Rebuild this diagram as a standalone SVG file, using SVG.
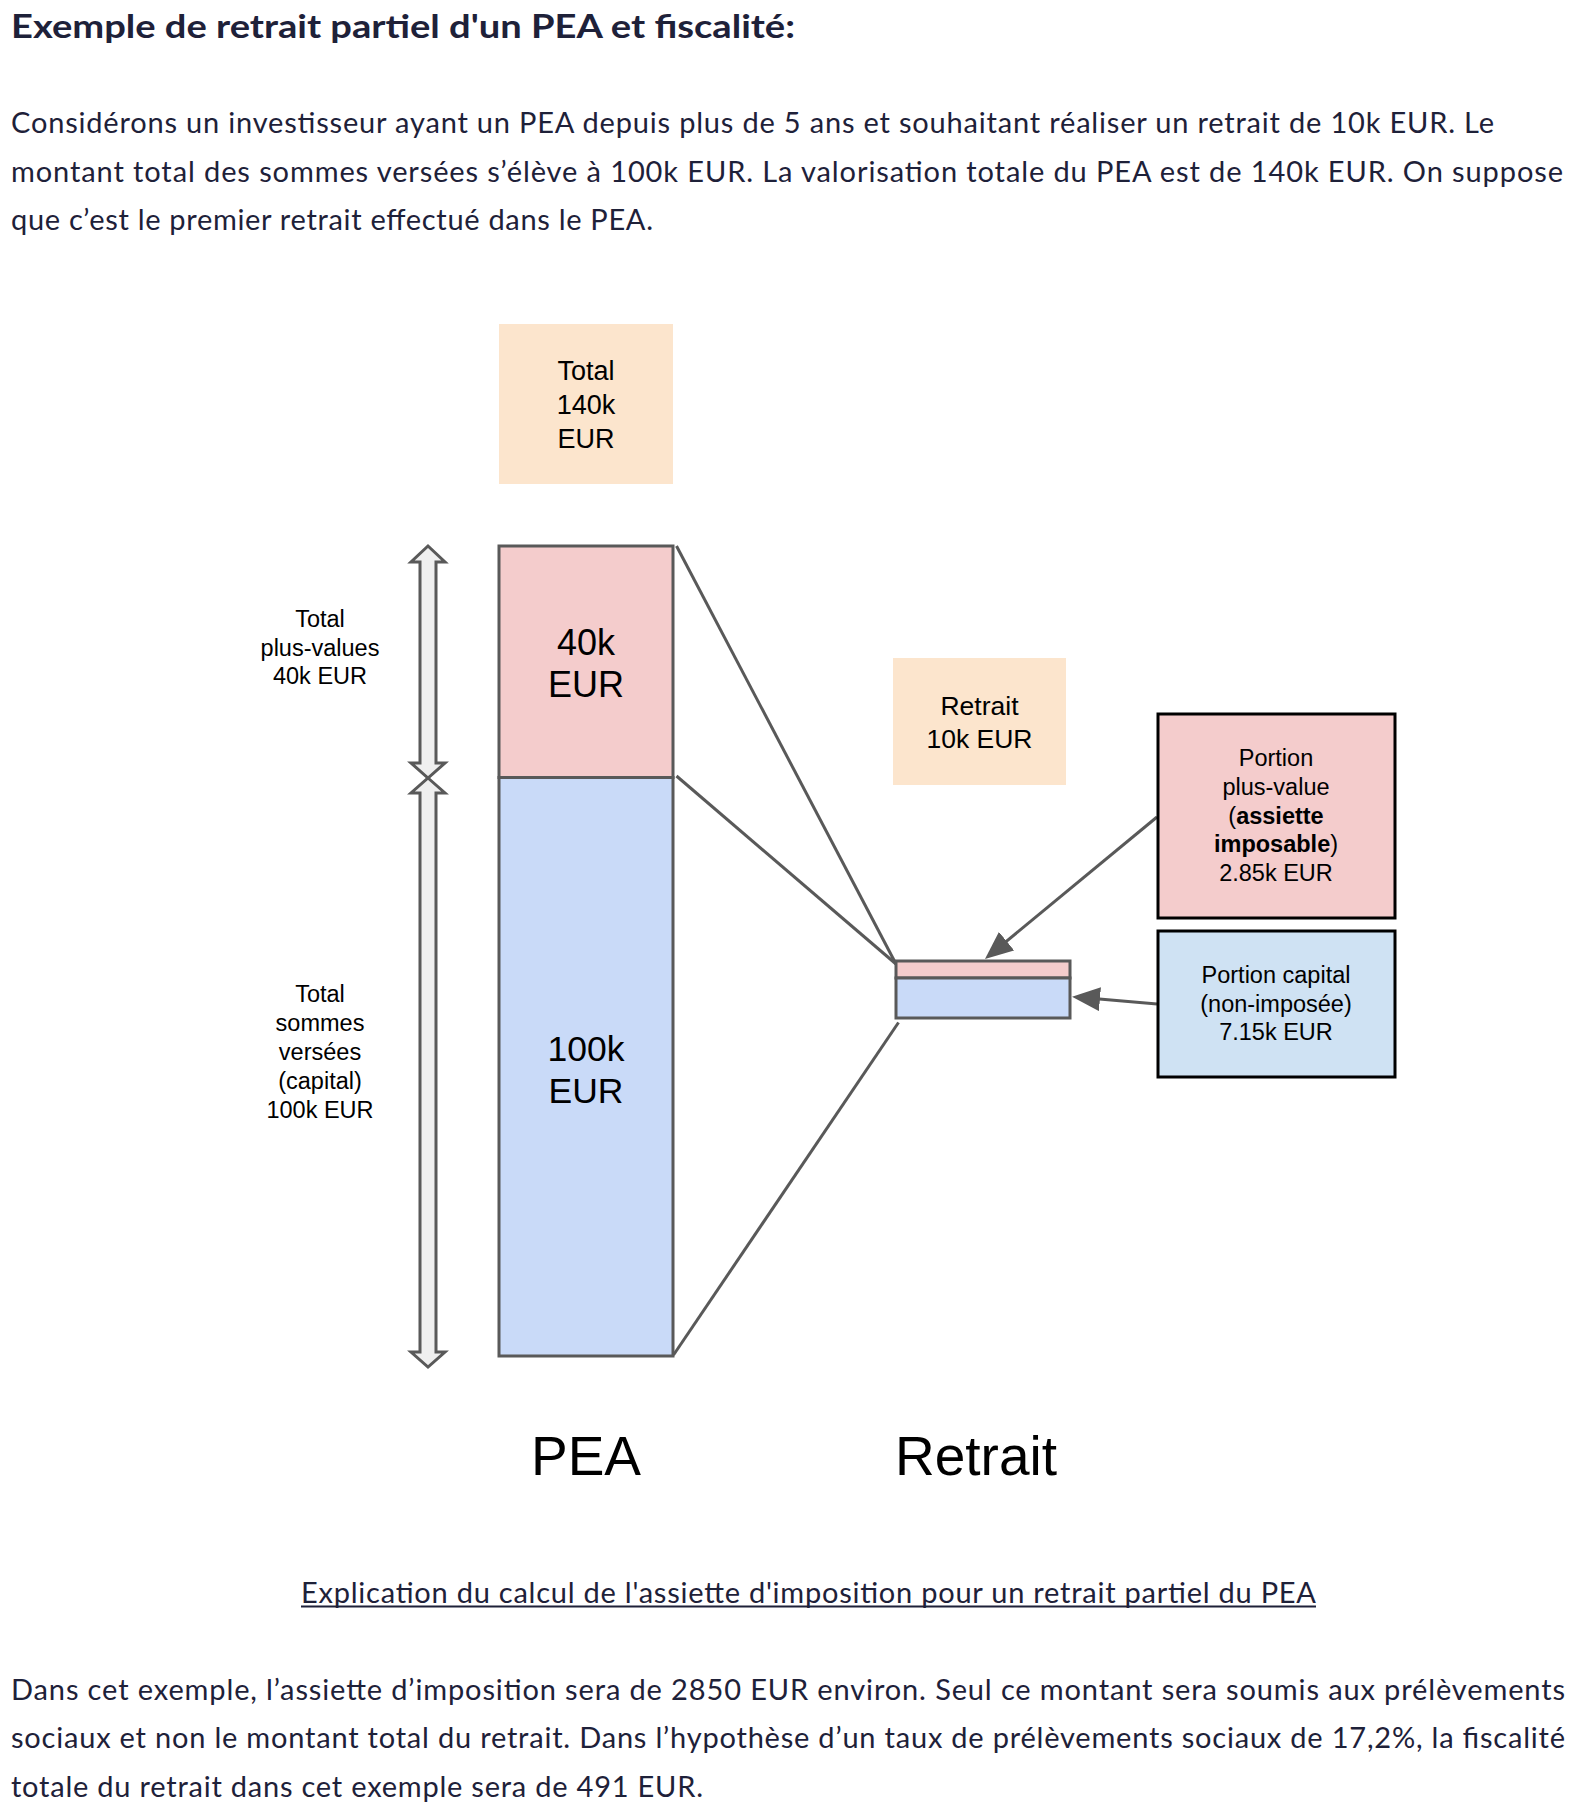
<svg xmlns="http://www.w3.org/2000/svg" width="1578" height="1815" viewBox="0 0 1578 1815">
<style>
  .page { font-family: Lato, "Open Sans", "Noto Sans", sans-serif; fill: #1e2139; }
  .title { font-size: 32px; font-weight: bold; }
  .body { font-size: 29px; }
  .d { font-family: "Liberation Sans", Arial, sans-serif; fill: #000; text-anchor: middle; }
  .s { font-size: 23.5px; }
  .edge { stroke: #595959; stroke-width: 3; fill: none; }
  .bar { stroke: #595959; stroke-width: 3; }
  .dbl { fill: #efefef; stroke: #595959; stroke-width: 3; stroke-linejoin: miter; }
  .peach { fill: #fce5cd; }
  .pink { fill: #f4cccc; }
  .blue { fill: #c9daf8; }
  .lblue { fill: #cfe2f3; }
  .boxk { stroke: #000; stroke-width: 3; }
</style>
<defs>
  <marker id="ah" markerWidth="28" markerHeight="24" refX="18" refY="12" orient="auto" markerUnits="userSpaceOnUse">
    <path d="M0,0 L28,12 L0,24 z" fill="#595959"/>
  </marker>
</defs>
<rect width="1578" height="1815" fill="#ffffff"/>

<g id="header" class="page">
  <text class="title" x="11" y="38" textLength="784" lengthAdjust="spacingAndGlyphs">Exemple de retrait partiel d'un PEA et fiscalité:</text>
  <text class="body" x="11" y="133" textLength="1483" lengthAdjust="spacing">Considérons un investisseur ayant un PEA depuis plus de 5 ans et souhaitant réaliser un retrait de 10k EUR. Le</text>
  <text class="body" x="11" y="181.5" textLength="1552" lengthAdjust="spacing">montant total des sommes versées s’élève à 100k EUR. La valorisation totale du PEA est de 140k EUR. On suppose</text>
  <text class="body" x="11" y="230" textLength="642" lengthAdjust="spacing">que c’est le premier retrait effectué dans le PEA.</text>
</g>

<g id="connectors">
  <line class="edge" x1="676.5" y1="546" x2="896" y2="964"/>
  <line class="edge" x1="676.5" y1="776" x2="896" y2="964"/>
  <line class="edge" x1="898.5" y1="1022.5" x2="673.5" y2="1355"/>
  <line class="edge" x1="1157" y1="817" x2="992.7" y2="952.6" marker-end="url(#ah)"/>
  <line class="edge" x1="1157" y1="1004" x2="1082" y2="997.6" marker-end="url(#ah)"/>
</g>

<g id="total-box">
  <rect class="peach" x="499" y="324" width="174" height="160"/>
  <text class="d" font-size="27" x="586" y="380">Total</text>
  <text class="d" font-size="27" x="586" y="414">140k</text>
  <text class="d" font-size="27" x="586" y="448">EUR</text>
</g>

<g id="pea-plus-values">
  <rect class="pink bar" x="499" y="546" width="174" height="231.5"/>
  <text class="d" font-size="36" x="586" y="655">40k</text>
  <text class="d" font-size="36" x="586" y="697">EUR</text>
</g>

<g id="pea-capital">
  <rect class="blue bar" x="499" y="777.5" width="174" height="578.5"/>
  <text class="d" font-size="35.5" x="586" y="1061">100k</text>
  <text class="d" font-size="35.5" x="586" y="1103">EUR</text>
</g>

<g id="arrow-plus-values">
  <polygon class="dbl" points="428,546 445,562 436,562 436,763 445,763 428,778 411,763 420,763 420,562 411,562"/>
  <text class="d s" x="320" y="627">Total</text>
  <text class="d s" x="320" y="655.5">plus-values</text>
  <text class="d s" x="320" y="684">40k EUR</text>
</g>

<g id="arrow-capital">
  <polygon class="dbl" points="428,778 445,793 436,793 436,1352 445,1352 428,1367 411,1352 420,1352 420,793 411,793"/>
  <text class="d s" x="320" y="1002">Total</text>
  <text class="d s" x="320" y="1031">sommes</text>
  <text class="d s" x="320" y="1060">versées</text>
  <text class="d s" x="320" y="1089">(capital)</text>
  <text class="d s" x="320" y="1118">100k EUR</text>
</g>

<g id="retrait-box">
  <rect class="peach" x="893" y="658" width="173" height="127"/>
  <text class="d" font-size="26.5" x="979.5" y="715">Retrait</text>
  <text class="d" font-size="26.5" x="979.5" y="747.5">10k EUR</text>
</g>

<g id="retrait-bar">
  <rect class="pink bar" x="896" y="961" width="174" height="17"/>
  <rect class="blue bar" x="896" y="978" width="174" height="40"/>
</g>

<g id="portion-plus-value">
  <rect class="pink boxk" x="1158" y="714" width="237" height="204"/>
  <text class="d s" x="1276" y="766">Portion</text>
  <text class="d s" x="1276" y="794.5">plus-value</text>
  <text class="d s" x="1276" y="823.5">(<tspan font-weight="bold">assiette</tspan></text>
  <text class="d s" x="1276" y="852"><tspan font-weight="bold">imposable</tspan>)</text>
  <text class="d s" x="1276" y="881">2.85k EUR</text>
</g>

<g id="portion-capital">
  <rect class="lblue boxk" x="1158" y="931" width="237" height="146"/>
  <text class="d s" x="1276" y="982.5">Portion capital</text>
  <text class="d s" x="1276" y="1011.5">(non-imposée)</text>
  <text class="d s" x="1276" y="1040">7.15k EUR</text>
</g>

<g id="label-pea">
  <text class="d" font-size="55" x="586" y="1475">PEA</text>
</g>
<g id="label-retrait">
  <text class="d" font-size="55" x="976" y="1475">Retrait</text>
</g>

<g id="footer" class="page">
  <text class="body" x="301" y="1603" textLength="1015" lengthAdjust="spacing">Explication du calcul de l'assiette d'imposition pour un retrait partiel du PEA</text>
  <line x1="301" y1="1606.5" x2="1316" y2="1606.5" stroke="#1e2139" stroke-width="2"/>
  <text class="body" x="11" y="1699.5" textLength="1554" lengthAdjust="spacing">Dans cet exemple, l’assiette d’imposition sera de 2850 EUR environ. Seul ce montant sera soumis aux prélèvements</text>
  <text class="body" x="11" y="1748" textLength="1554" lengthAdjust="spacing">sociaux et non le montant total du retrait. Dans l’hypothèse d’un taux de prélèvements sociaux de 17,2%, la fiscalité</text>
  <text class="body" x="11" y="1796.5" textLength="692" lengthAdjust="spacing">totale du retrait dans cet exemple sera de 491 EUR.</text>
</g>
</svg>
